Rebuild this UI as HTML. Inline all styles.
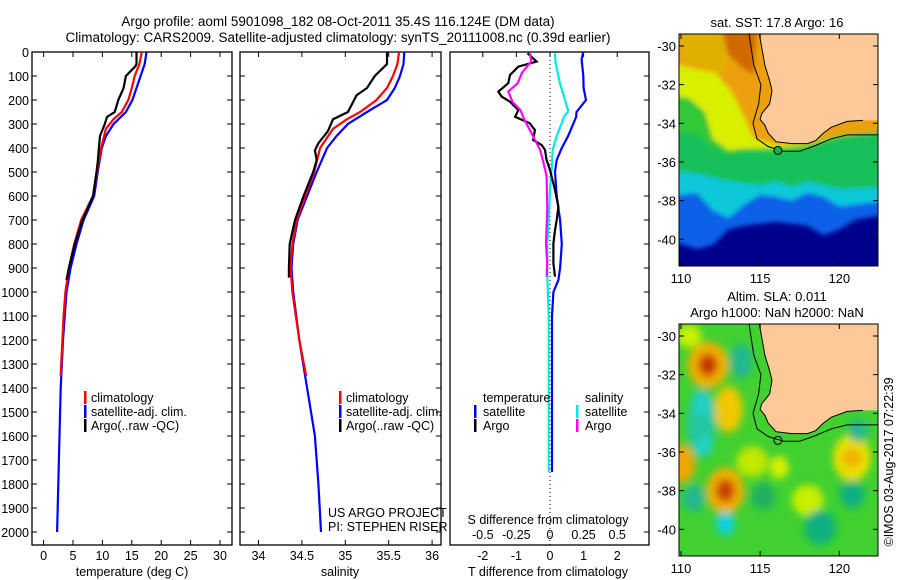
<!DOCTYPE html>
<html><head><meta charset="utf-8">
<style>
html,body{margin:0;padding:0;background:#fff;}
svg{display:block;font-family:"Liberation Sans",sans-serif;}
text{fill:#000;}
</style></head>
<body>
<svg id="fig" width="900" height="580" viewBox="0 0 900 580" xmlns="http://www.w3.org/2000/svg">
<defs>
<clipPath id="cp1"><rect x="32" y="52" width="200" height="493"/></clipPath>
<clipPath id="cp2"><rect x="240" y="52" width="201" height="493"/></clipPath>
<clipPath id="cp3"><rect x="450" y="52" width="199" height="493"/></clipPath>
<clipPath id="cm1"><rect x="679" y="34" width="199" height="232"/></clipPath>
<clipPath id="cm2"><rect x="679" y="324" width="199" height="232"/></clipPath>
<filter id="blr" x="-50%" y="-50%" width="200%" height="200%"><feGaussianBlur stdDeviation="4"/></filter>
<filter id="blr2" x="-50%" y="-50%" width="200%" height="200%"><feGaussianBlur stdDeviation="2.5"/></filter>
</defs>
<text x="338" y="26" font-size="13.5" text-anchor="middle">Argo profile: aoml 5901098_182 08-Oct-2011 35.4S 116.124E (DM data)</text>
<text x="338" y="42" font-size="13.5" text-anchor="middle">Climatology: CARS2009. Satellite-adjusted climatology: synTS_20111008.nc (0.39d earlier)</text>
<g id="g1"></g>
<g id="g2"></g>
<g id="g3"></g>
<g id="gm1"></g>
<g id="gm2"></g>
<text x="777" y="27" font-size="13" text-anchor="middle">sat. SST: 17.8 Argo: 16</text>
<text x="777" y="301" font-size="13" text-anchor="middle">Altim. SLA: 0.011</text>
<text x="777" y="317" font-size="13" text-anchor="middle">Argo h1000: NaN h2000: NaN</text>
<text x="0" y="0" font-size="12.5" text-anchor="middle" transform="translate(893,462) rotate(-90)">©IMOS 03-Aug-2017 07:22:39</text>
</svg>
<script>
// ---- temperature profiles ----
const tDepthClim = [0,50,100,150,200,250,280,320,400,500,600,700,800,900,1000,1100,1200,1300,1350];
const tClim      = [16.7,16.3,15.5,15.0,14.4,13.3,11.9,10.6,9.8,9.1,8.4,6.4,5.2,4.3,3.7,3.4,3.2,3.0,2.9];
const tDepthSat  = [0,50,100,150,200,250,300,350,400,500,600,700,800,900,1000,1200,1400,1600,1800,2000];
const tSat       = [17.5,17.2,16.5,15.8,15.1,14.0,11.9,10.6,9.9,9.2,8.6,6.8,5.6,4.6,3.9,3.3,2.9,2.7,2.5,2.3];
const tDepthArgo = [0,50,60,100,150,200,250,270,300,350,400,460,500,600,700,800,900,950];
const tArgo      = [15.8,15.8,15.6,14.0,13.6,12.7,12.1,10.8,10.4,9.6,9.4,9.2,9.0,8.4,6.6,5.3,4.3,3.9];
// ---- salinity profiles ----
const sDepthClim = [0,50,100,150,200,250,280,320,400,500,600,700,800,900,1000,1200,1350];
const sClim      = [35.62,35.60,35.55,35.48,35.36,35.17,35.02,34.86,34.71,34.64,34.54,34.44,34.39,34.37,34.39,34.47,34.55];
const sDepthSat  = [0,50,100,150,200,250,300,350,400,500,600,700,800,900,1000,1200,1400,1600,1800,2000];
const sSat       = [35.68,35.67,35.63,35.57,35.48,35.25,35.03,34.90,34.79,34.67,34.56,34.45,34.40,34.38,34.40,34.47,34.56,34.65,34.69,34.72];
const sDepthArgo = [0,50,100,150,180,250,280,330,380,410,450,500,600,700,800,900,940];
const sArgo      = [35.48,35.48,35.34,35.25,35.13,35.03,34.86,34.80,34.69,34.65,34.67,34.63,34.52,34.42,34.36,34.35,34.35];
// ---- difference profiles ----
const dDepthTSat = [0,30,100,150,200,250,270,300,350,400,450,500,600,700,800,900,950,1000,1100,1400,1750];
const dTSat      = [0.99,0.94,0.99,1.0,1.07,0.79,0.78,0.69,0.54,0.35,0.20,0.15,0.20,0.30,0.35,0.30,0.25,0.10,0.06,0.06,0.06];
const dDepthTArgo= [5,40,61,96,130,165,186,207,242,270,297,325,367,387,408,450,492,575,644,700,742,797,880,936];
const dTArgo     = [-0.67,-0.40,-0.94,-1.19,-1.24,-1.54,-1.44,-1.19,-0.94,-1.04,-0.60,-0.45,-0.50,-0.25,-0.15,-0.10,0,0.15,0.25,0.20,0.15,0.10,0.10,0.15];
const dDepthSSat = [5,40,130,186,247,270,297,350,408,492,575,700,797,936,1100,1400,1750];
const dSSat      = [0.037,0.04,0.074,0.104,0.136,0.104,0.087,0.05,0.02,0.012,0.0,-0.01,-0.02,-0.02,-0.01,-0.01,-0.01];
const dDepthSArgo= [5,40,88,130,165,207,242,283,325,367,408,458,517,658,797,880,936];
const dSArgo     = [-0.149,-0.14,-0.21,-0.24,-0.31,-0.28,-0.22,-0.19,-0.15,-0.11,-0.074,-0.05,-0.025,-0.02,-0.03,-0.02,-0.025];
// ---- tick labels ----
const depthTicks = [0,100,200,300,400,500,600,700,800,900,1000,1100,1200,1300,1400,1500,1600,1700,1800,1900,2000];
const tempTicks = [0,5,10,15,20,25,30];
const salTicks = [34,34.5,35,35.5,36];
const salTickLabels = ["34","34.5","35","35.5","36"];
const dTTicks = [-2,-1,0,1,2];
const dSTicks = [-0.5,-0.25,0,0.25,0.5];
const lonTicks = [110,115,120];
const latTicks = [-30,-32,-34,-36,-38,-40];

const NS = "http://www.w3.org/2000/svg";
function mk(tag, attrs, parent){const e=document.createElementNS(NS,tag);for(const k in attrs)e.setAttribute(k,attrs[k]);if(parent)parent.appendChild(e);return e;}
const yD = d => 52 + d*0.24;
const xT = t => 43.6 + t*5.88;
const xS = s => 258.5 + (s-34)*86.8;
const xDT = t => 550 + t*33.6;
const xDS = s => 550 + s*134.4;

function frame(g,x0,x1,name){
  const r=mk('rect',{x:x0,y:52,width:x1-x0,height:493,fill:'none',stroke:'#000','stroke-width':1.3},g);
  
  
}
function depthTickMarks(g,x0,x1){
  depthTicks.forEach(d=>{
    mk('line',{x1:x0,x2:x0+5,y1:yD(d),y2:yD(d),stroke:'#000'},g);
    mk('line',{x1:x1-5,x2:x1,y1:yD(d),y2:yD(d),stroke:'#000'},g);
  });
}
function topBottomTicks(g,xs){
  xs.forEach(x=>{
    mk('line',{x1:x,x2:x,y1:52,y2:57,stroke:'#000'},g);
    mk('line',{x1:x,x2:x,y1:540,y2:545,stroke:'#000'},g);
  });
}
function series(g,clip,xs,ds,xf,color,name){
  const pts=xs.map((v,i)=>xf(v).toFixed(1)+','+yD(ds[i]).toFixed(1)).join(' ');
  const p=mk('polyline',{points:pts,fill:'none',stroke:color,'stroke-width':2.2,'clip-path':'url(#'+clip+')','stroke-linejoin':'miter'},g);
  
  
}
function txt(g,x,y,s,anchor,size,name){
  const t=mk('text',{x:x,y:y,'font-size':size||12.5,'text-anchor':anchor||'start'},g);
  t.textContent=s;
  
  
  return t;
}
function legendBar(g,x,y,color,name){
  const r=mk('rect',{x:x,y:y-11,width:2.5,height:13,fill:color},g);
  
  
}

// Panel 1
const g1=document.getElementById('g1');
frame(g1,32,232,'temperature-axes-frame');
depthTickMarks(g1,32,232);
topBottomTicks(g1,tempTicks.map(xT));
depthTicks.forEach(d=>txt(g1,29,yD(d)+5,String(d),'end',12.5,'depth-tick-label'));
tempTicks.forEach(t=>txt(g1,xT(t),560,String(t),'middle',12.5,'temperature-tick-label'));
txt(g1,132,576,'temperature (deg C)','middle',12.5,'temperature-axis-title');
series(g1,'cp1',tSat,tDepthSat,xT,'#0000ff','temperature-satellite-line');
series(g1,'cp1',tClim,tDepthClim,xT,'#ff0000','temperature-climatology-line');
series(g1,'cp1',tArgo,tDepthArgo,xT,'#000000','temperature-argo-line');
legendBar(g1,84,402,'#ff0000','legend-climatology-swatch');
txt(g1,91,402,'climatology','start',12.5,'legend-climatology');
legendBar(g1,84,416,'#0000ff','legend-satellite-swatch');
txt(g1,91,416,'satellite-adj. clim.','start',12.5,'legend-satellite');
legendBar(g1,84,430,'#000000','legend-argo-swatch');
txt(g1,91,430,'Argo(..raw -QC)','start',12.5,'legend-argo');

// Panel 2
const g2=document.getElementById('g2');
frame(g2,240,441,'salinity-axes-frame');
depthTickMarks(g2,240,441);
topBottomTicks(g2,salTicks.map(xS));
salTicks.forEach((s,i)=>txt(g2,xS(s),560,salTickLabels[i],'middle',12.5,'salinity-tick-label'));
txt(g2,340,576,'salinity','middle',12.5,'salinity-axis-title');
series(g2,'cp2',sSat,sDepthSat,xS,'#0000ff','salinity-satellite-line');
series(g2,'cp2',sClim,sDepthClim,xS,'#ff0000','salinity-climatology-line');
series(g2,'cp2',sArgo,sDepthArgo,xS,'#000000','salinity-argo-line');
legendBar(g2,339,402,'#ff0000','legend2-climatology-swatch');
txt(g2,346,402,'climatology','start',12.5,'legend2-climatology');
legendBar(g2,339,416,'#0000ff','legend2-satellite-swatch');
txt(g2,346,416,'satellite-adj. clim.','start',12.5,'legend2-satellite');
legendBar(g2,339,430,'#000000','legend2-argo-swatch');
txt(g2,346,430,'Argo(..raw -QC)','start',12.5,'legend2-argo');
txt(g2,328,517,'US ARGO PROJECT','start',12.5,'project-label');
txt(g2,328,531,'PI: STEPHEN RISER','start',12.5,'pi-label');

// Panel 3
const g3=document.getElementById('g3');
frame(g3,450,649,'difference-axes-frame');
depthTicks.forEach(d=>mk('line',{x1:644,x2:649,y1:yD(d),y2:yD(d),stroke:'#000'},g3));
dTTicks.forEach(t=>mk('line',{x1:xDT(t),x2:xDT(t),y1:52,y2:57,stroke:'#000'},g3));
mk('line',{x1:550,x2:550,y1:52,y2:545,stroke:'#000','stroke-dasharray':'1,3'},g3);
dTTicks.forEach(t=>txt(g3,xDT(t),560,String(t),'middle',12.5,'t-difference-tick-label'));
dSTicks.forEach(s=>txt(g3,xDS(s),539,String(s),'middle',12.5,'s-difference-tick-label'));
txt(g3,548,524,'S difference from climatology','middle',12.5,'s-difference-axis-title');
txt(g3,548,576,'T difference from climatology','middle',12.5,'t-difference-axis-title');
series(g3,'cp3',dSSat,dDepthSSat,xDS,'#00e8e8','s-diff-satellite-line');
series(g3,'cp3',dTSat,dDepthTSat,xDT,'#0000ff','t-diff-satellite-line');
series(g3,'cp3',dTArgo,dDepthTArgo,xDT,'#000000','t-diff-argo-line');
series(g3,'cp3',dSArgo,dDepthSArgo,xDS,'#ff00ff','s-diff-argo-line');
txt(g3,483,402,'temperature','start',12.5,'legend3-temperature-header');
txt(g3,585,402,'salinity','start',12.5,'legend3-salinity-header');
legendBar(g3,474,416,'#0000ff','legend3-t-satellite-swatch');
txt(g3,483,416,'satellite','start',12.5,'legend3-t-satellite');
legendBar(g3,474,430,'#000000','legend3-t-argo-swatch');
txt(g3,483,430,'Argo','start',12.5,'legend3-t-argo');
legendBar(g3,576,416,'#00e8e8','legend3-s-satellite-swatch');
txt(g3,585,416,'satellite','start',12.5,'legend3-s-satellite');
legendBar(g3,576,430,'#ff00ff','legend3-s-argo-swatch');
txt(g3,585,430,'Argo','start',12.5,'legend3-s-argo');

// Maps
const mx = lon => 681 + (lon-110)*15.83;
function myF(off){return lat => off + 46 + (-30-lat)*19.33;}
function poly(g,pts,my,fill,stroke,name,extra){
  const p=mk('polygon',Object.assign({points:pts.map(q=>mx(q[0]).toFixed(1)+','+my(q[1]).toFixed(1)).join(' '),fill:fill,stroke:stroke||'none'},extra||{}),g);
  
  
  return p;
}
function bandTop(bound){return [[109,-29],[123,-29]].concat(bound.slice().reverse().map(b=>[b[0],b[1]])).concat([[109,bound[0][1]]]);}
const landPts=[[114.95,-29],[114.95,-29.4],[115.3,-31],[115.6,-31.8],[115.75,-32.3],[115.6,-33],[115.1,-33.5],[115.0,-33.8],[115.3,-34.1],[115.5,-34.5],[116,-34.95],[117,-35.05],[118,-35.05],[118.5,-34.9],[119,-34.5],[119.5,-34.2],[120.5,-33.9],[121.5,-33.85],[123,-33.85],[123,-29]];
const contourPts=[[114.3,-29.4],[114.6,-31],[115.05,-32],[114.9,-33],[114.55,-34],[114.8,-34.8],[115.5,-35.2],[116.5,-35.45],[117.5,-35.45],[118.5,-35.15],[119.5,-34.8],[120.5,-34.6],[122.5,-34.6]];
function coast(g,my,off){
  poly(g,landPts,my,'#fdc998','none','land');
  const c=mk('polyline',{points:landPts.slice(1,-2).map(q=>mx(q[0]).toFixed(1)+','+my(q[1]).toFixed(1)).join(' '),fill:'none',stroke:'#000','stroke-width':1},g);
  
  
  const k=mk('polyline',{points:contourPts.map(q=>mx(q[0]).toFixed(1)+','+my(q[1]).toFixed(1)).join(' '),fill:'none',stroke:'#000','stroke-width':1},g);
  
  
}
function mapAxes(g,off,name){
  const my=myF(off);
  const r=mk('rect',{x:679,y:34+off,width:199,height:232,fill:'none',stroke:'#000','stroke-width':1},g);
  
  
  lonTicks.forEach(l=>{
    mk('line',{x1:mx(l),x2:mx(l),y1:34+off,y2:39+off,stroke:'#000'},g);
    mk('line',{x1:mx(l),x2:mx(l),y1:261+off,y2:266+off,stroke:'#000'},g);
    txt(g,mx(l),283+off,String(l),'middle',13,'longitude-tick-label');
  });
  latTicks.forEach(l=>{
    mk('line',{x1:679,x2:684,y1:my(l),y2:my(l),stroke:'#000'},g);
    mk('line',{x1:873,x2:878,y1:my(l),y2:my(l),stroke:'#000'},g);
    txt(g,676,my(l)+5,String(l),'end',13,'latitude-tick-label');
  });
}
// SST map
(function(){
  const g=document.getElementById('gm1'); const my=myF(0);
  const cg=mk('g',{'clip-path':'url(#cm1)'},g);
  mk('rect',{x:679,y:34,width:199,height:232,fill:'#00008c'},cg);
  const gb=mk('g',{filter:'url(#blr2)'},cg);
  poly(gb,bandTop([[109,-40.0],[111,-40.5],[112,-40.3],[113,-39.5],[114,-39.3],[116,-39.1],[118,-39.3],[119,-39.8],[120,-39.5],[121,-39],[123,-38.7]]),my,'#1060e8','none','sst-blue-band');
  poly(gb,bandTop([[109,-37.8],[111,-37.6],[112,-38.5],[113,-38.9],[114,-38.2],[115,-37.7],[116,-37.8],[117,-38],[118,-37.6],[119,-37.8],[120,-38.3],[121,-38.2],[123,-38]]),my,'#10c8d8','none','sst-cyan-band');
  poly(gb,bandTop([[109,-36.4],[111,-36.6],[112,-36.8],[113,-37],[115,-37.2],[116,-37],[117,-37.3],[118,-37],[119,-37.2],[120,-37.4],[123,-37.3]]),my,'#18c058','none','sst-teal-band');
  poly(gb,bandTop([[109,-34.5],[111,-34.5],[112,-35.3],[113,-35.6],[114,-35.4],[116,-35.5],[117,-35.4],[118,-35.3],[119,-35],[120,-34.8],[123,-34.3]]),my,'#30c838','none','sst-green-band');
  poly(gb,bandTop([[109,-32.5],[110.5,-32.7],[111.5,-33.4],[112,-34.8],[113,-35.4],[114,-35.3],[116,-35.3],[118,-35.1],[120,-34.6],[123,-34.2]]),my,'#d8f000','none','sst-yellow-band');
  poly(gb,[[109,-29],[123,-29],[123,-34.4],[120,-34.6],[118,-35.0],[116,-35.1],[114.6,-34.8],[113.9,-33.5],[113.2,-32.4],[112.2,-31.4],[111,-31.2],[109,-30.8]],my,'#eca010','none','sst-orange-region');
  poly(gb,[[110,-29],[113,-29],[113.3,-30.5],[112.5,-31.5],[111,-31],[110,-30.5]],my,'#e0b000','none','sst-amber-region');
  poly(gb,[[112.5,-29],[114.8,-29],[114.6,-31.5],[114,-31.2],[113,-30.5]],my,'#d06a00','none','sst-warm-core');
  coast(cg,my,0);
  const c=mk('circle',{cx:mx(116.12),cy:my(-35.4),r:4,fill:'#10b050',stroke:'#000','stroke-width':1},cg);
  
  
  mapAxes(g,0,'sst-map-frame');
})();
// SLA map
(function(){
  const g=document.getElementById('gm2'); const my=myF(290);
  const cg=mk('g',{'clip-path':'url(#cm2)'},g);
  mk('rect',{x:679,y:324,width:199,height:232,fill:'#40d030'},cg);
  const gb=mk('g',{filter:'url(#blr)'},cg);
  const blobs=[
    [111.7,-31.5,1.3,1.2,'#f0b000'],[111.7,-31.5,0.6,0.6,'#c83000'],
    [112.8,-38.0,1.2,1.2,'#f0b000'],[112.8,-38.0,0.6,0.6,'#c84000'],
    [110.0,-36.6,0.9,1.0,'#f0a800'],
    [113.0,-33.8,0.9,1.2,'#f0c800'],[120.8,-36.3,1.2,1.2,'#e8e000'],[120.8,-36.3,0.6,0.5,'#f0b000'],
    [116.2,-36.8,0.6,0.6,'#d8f000'],[118.0,-38.5,1.0,0.8,'#c8f000'],[110.5,-30.0,0.8,0.6,'#c8f000'],
    [114.5,-36.5,1.0,0.8,'#c0e800'],
    [111.3,-34.5,0.9,1.8,'#20c8a0'],[111.3,-33.5,0.5,0.6,'#20d0c8'],[111.5,-35.7,0.5,0.5,'#20d0c8'],
    [112.8,-39.7,0.6,0.6,'#10d0e0'],[113.8,-31.3,0.7,0.9,'#20b890'],[118.8,-39.9,1.0,0.9,'#10b080'],
    [120.8,-38.2,0.8,0.7,'#10b080'],[110.8,-38.4,0.7,0.7,'#20b890'],[121.2,-34.9,0.6,0.6,'#20b890'],
    [115.2,-38.3,0.8,0.7,'#20b060']
  ];
  blobs.forEach(b=>{
    const e=mk('ellipse',{cx:mx(b[0]),cy:my(b[1]),rx:b[2]*15.83,ry:b[3]*19.33,fill:b[4]},gb);
    
    
  });
  coast(cg,my,290);
  const c=mk('circle',{cx:mx(116.12),cy:my(-35.4),r:4,fill:'none',stroke:'#000','stroke-width':1},cg);
  
  
  mapAxes(g,290,'sla-map-frame');
})();
</script>
</body></html>
